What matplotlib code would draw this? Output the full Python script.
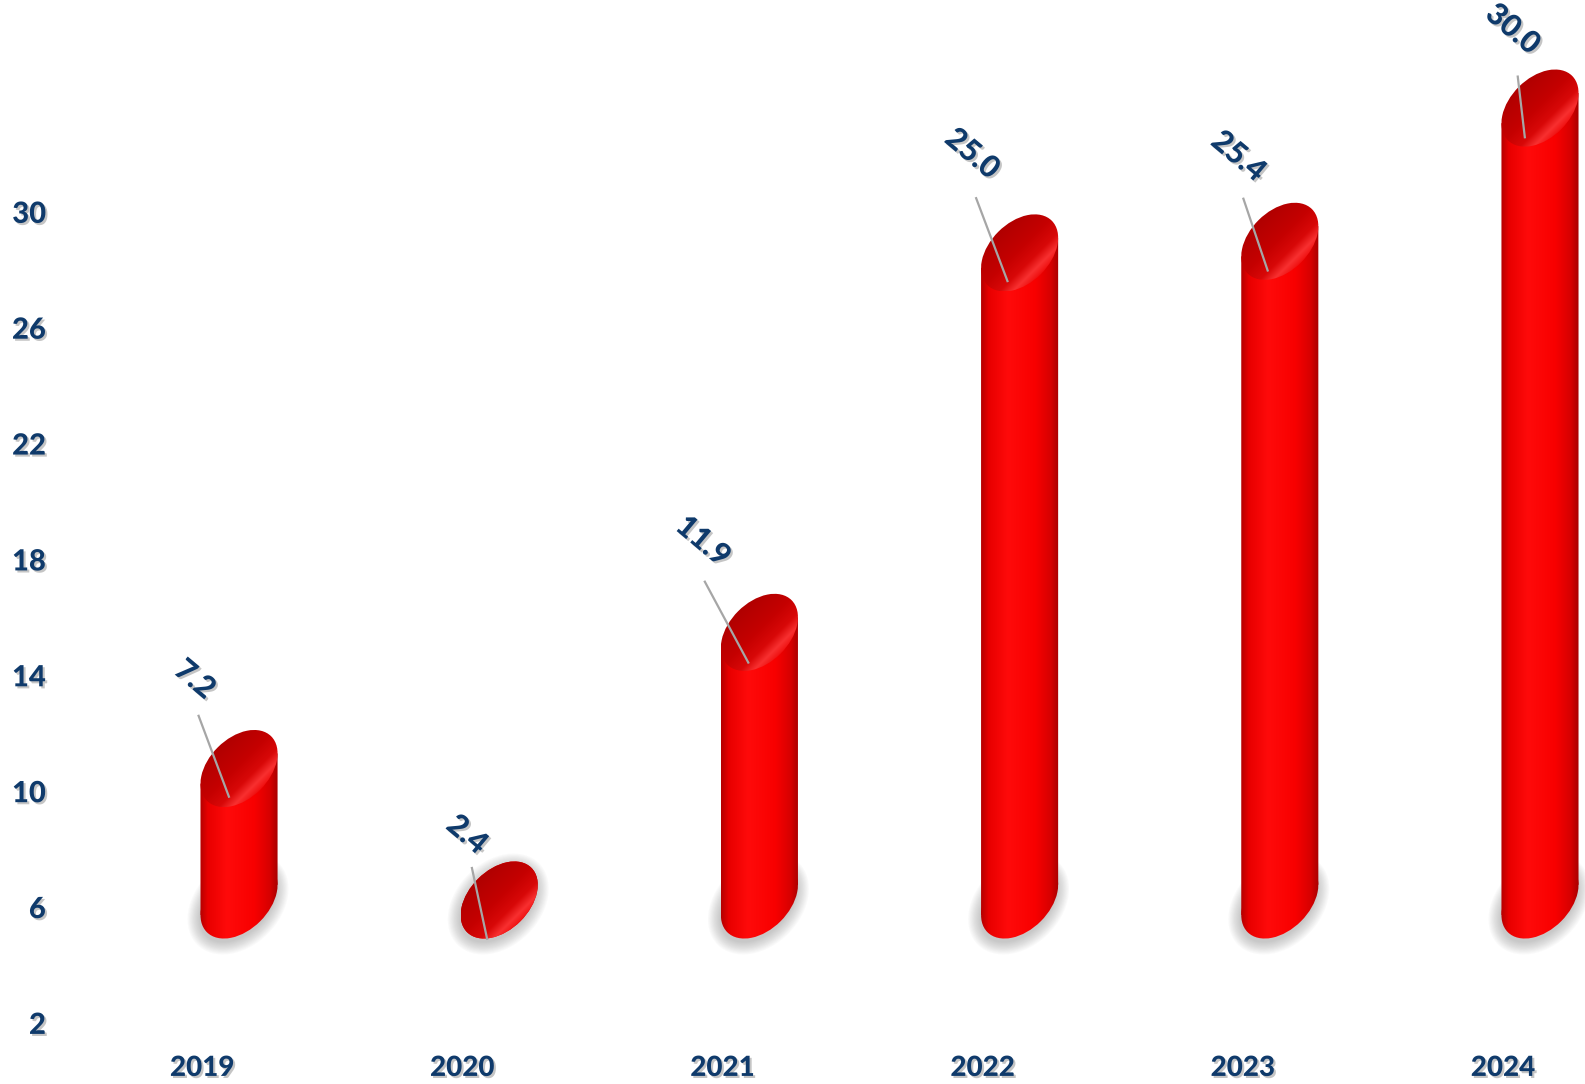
import matplotlib

matplotlib.use("Agg")

import matplotlib.patheffects as pe
import matplotlib.pyplot as plt
import numpy as np
from matplotlib.colors import LinearSegmentedColormap
from matplotlib.lines import Line2D
from matplotlib.patches import Ellipse, Polygon
from matplotlib.transforms import IdentityTransform

years = ["2019", "2020", "2021", "2022", "2023", "2024"]
values = [7.2, 2.4, 11.9, 25.0, 25.4, 30.0]
y_ticks = [2, 6, 10, 14, 18, 22, 26, 30]
base = 4.93

# label / leader placement in pixels, relative to the top of each cylinder
label_offsets = [(-44, 50), (-32, 34), (-56, 52), (-47, 60), (-41, 46), (-27, 40)]
leader_starts = [(-40, 14), (-27, 1), (-54, 12), (-43, 16), (-36, 4), (-22, -7)]
leader_ends = [(-10, -66), (-12, -69), (-11, -68), (-12, -66), (-12, -67), (-15, -67)]

NAVY = "#0f3a6b"
SCALE = 1585 / 1568
BAR_SHIFT = 0.142
ELL_A, ELL_B, ELL_ANGLE = 45.5, 30.0, 45.0

plt.rcParams["font.family"] = ["Lato", "DejaVu Sans"]

body_cmap = LinearSegmentedColormap.from_list(
    "body",
    [(0.0, "#b40000"), (0.1, "#e80000"), (0.35, "#ff0a0a"), (0.7, "#f80000"),
     (0.9, "#d60000"), (1.0, "#a80000")],
)
cap_cmap = LinearSegmentedColormap.from_list(
    "cap",
    [(0.0, "#b00000"), (0.45, "#c40000"), (0.72, "#d80808"), (0.88, "#f83030"),
     (1.0, "#f01010")],
)

fig = plt.figure(figsize=(15.85, 10.84), dpi=100)
ax = fig.add_axes([55 / 1568, 37 / 1072, 1 - 55 / 1568, 1035 / 1072])
ax.set_xlim(-0.563, 5.315)
ax.set_ylim(1.2, 37.33)

# outline of the tilted ellipse, used to find the silhouette tangent points
theta = np.radians(ELL_ANGLE)
tt = np.linspace(0, 2 * np.pi, 2000)
ex = ELL_A * np.cos(tt) * np.cos(theta) - ELL_B * np.sin(tt) * np.sin(theta)
ey = ELL_A * np.cos(tt) * np.sin(theta) + ELL_B * np.sin(tt) * np.cos(theta)
half_w = ex.max()
half_h = ey.max()
left_dy = ey[np.argmin(ex)]
right_dy = ey[np.argmax(ex)]
inv = ax.transData.inverted()


def ellipse(cx, cy, **kw):
    return Ellipse((cx, cy), 2 * ELL_A, 2 * ELL_B, angle=ELL_ANGLE,
                   transform=IdentityTransform(), **kw)


def gradient(arr, x0, x1, y0, y1, cmap, clip, z):
    (dx0, dy0), (dx1, dy1) = inv.transform([(x0, y0), (x1, y1)])
    im = ax.imshow(arr, extent=(dx0, dx1, dy0, dy1), origin="lower", cmap=cmap,
                   vmin=0, vmax=1, aspect="auto", interpolation="bilinear", zorder=z)
    im.set_clip_path(clip)


def cylinder(xpos, value, z):
    cx, y_bot = ax.transData.transform((xpos, base))
    _, y_top = ax.transData.transform((xpos, base + value))
    yb = y_bot + half_h
    yt = max(yb, y_top - half_h)

    # soft drop shadow around the foot
    for k in range(12):
        ax.add_patch(Ellipse((cx - 1, yb - 4), 2 * ELL_A + 2.2 * k, 2 * ELL_B + 2.2 * k,
                             angle=ELL_ANGLE, transform=IdentityTransform(),
                             facecolor="#707070", edgecolor="none", alpha=0.035, zorder=z))

    row = np.linspace(0, 1, 256)[None, :].repeat(2, axis=0)
    x0, x1 = cx - half_w, cx + half_w
    side = Polygon([(x0, yb + left_dy), (x1, yb + right_dy), (x1, yt + right_dy),
                    (x0, yt + left_dy)], closed=True, transform=IdentityTransform())
    for clip in (ellipse(cx, yb), side):
        gradient(row, x0, x1, yb - half_h, yt + half_h, body_cmap, clip, z + 1)

    # top cap, shaded across its short axis
    n = 160
    gx, gy = np.meshgrid(np.linspace(x0, x1, n), np.linspace(yt - half_h, yt + half_h, n))
    t = ((gx - cx) - (gy - yt)) / np.sqrt(2) / ELL_B
    cap = np.clip((t + 1) / 2, 0, 1)
    gradient(cap, x0, x1, yt - half_h, yt + half_h, cap_cmap, ellipse(cx, yt), z + 2)
    return cx, y_top


shadow = [pe.withSimplePatchShadow(offset=(1.5, -1.5), shadow_rgbFace="#7f7f7f", alpha=0.45)]

for i, v in enumerate(values):
    xpos = i + BAR_SHIFT
    cx, ytop = cylinder(xpos, v, 2 + 3 * i)

    (sx, sy), (lx2, ly2) = leader_starts[i], leader_ends[i]
    ax.add_line(Line2D([cx + sx * SCALE, cx + lx2 * SCALE], [ytop + sy * SCALE, ytop + ly2 * SCALE],
                       transform=IdentityTransform(), color="#a6a6a6", lw=1.6, zorder=40))

    lx, ly = label_offsets[i]
    ax.annotate(f"{v:.1f}", xy=(xpos, base + v), xytext=(lx * SCALE, ly * SCALE),
                textcoords="offset pixels", rotation=-40, rotation_mode="anchor",
                ha="center", va="center", fontsize=22, fontweight="black",
                color=NAVY, path_effects=shadow, zorder=41)

ax.set_xlim(-0.563, 5.315)
ax.set_ylim(1.2, 37.33)
ax.set_xticks(range(len(years)))
ax.set_xticklabels(years)
ax.set_yticks(y_ticks)
ax.set_yticklabels([str(t) for t in y_ticks])
ax.tick_params(length=0)
ax.tick_params(axis="y", pad=7)
ax.tick_params(axis="x", pad=6)
for lbl in ax.get_xticklabels() + ax.get_yticklabels():
    lbl.set_fontsize(20)
    lbl.set_fontweight("black")
    lbl.set_color(NAVY)
    lbl.set_path_effects(shadow)
for lbl in ax.get_yticklabels():
    lbl.set_fontsize(21)
for spine in ax.spines.values():
    spine.set_visible(False)
ax.patch.set_visible(False)

fig.savefig("out.png", dpi=100)
